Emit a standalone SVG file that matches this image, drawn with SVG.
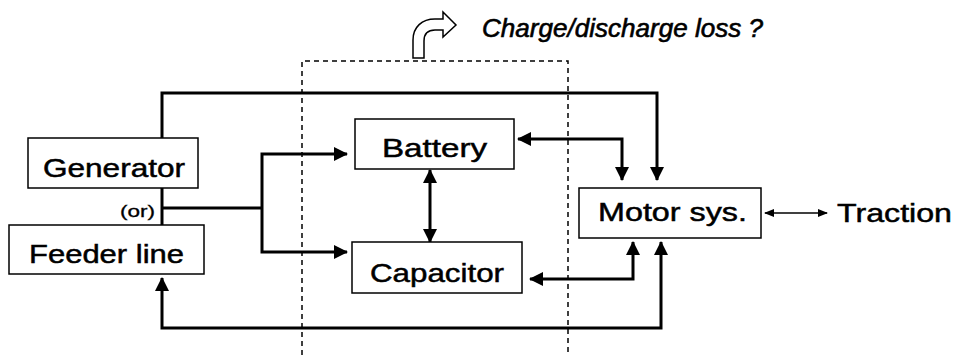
<svg xmlns="http://www.w3.org/2000/svg" width="956" height="355" viewBox="0 0 956 355">
<style>
.box{fill:#fff;stroke:#000;stroke-width:1.5}
.lbl{font-family:"Liberation Sans",Arial,sans-serif;font-size:26.5px;fill:#000;stroke:#000;stroke-width:0.5}
.con{fill:none;stroke:#000;stroke-width:3}
.thin{fill:none;stroke:#000;stroke-width:1.6}
.dash{fill:none;stroke:#000;stroke-width:1.5;stroke-dasharray:5 4}
</style>
<defs>
<marker id="ah" viewBox="0 0 14 14" refX="13" refY="7" markerWidth="14" markerHeight="14" markerUnits="userSpaceOnUse" orient="auto-start-reverse"><path d="M0,0 L14,7 L0,14 Z" fill="#000"/></marker>
<marker id="ahs" viewBox="0 0 10 10" refX="9" refY="5" markerWidth="10" markerHeight="10" markerUnits="userSpaceOnUse" orient="auto-start-reverse"><path d="M0,1 L10,5 L0,9 Z" fill="#000"/></marker>
</defs>
<rect width="956" height="355" fill="#fff"/>
<g id="loss-region">
<path class="dash" d="M302,355 V61 H568 V355"/>
<path d="M413,58 L413,40 C413,27 422,19 435,19 L443,19 L443,12 L456,25 L443,37 L443,30 L435,30 C428,30 424,34 424,41 L424,58 Z" fill="#fff" stroke="#000" stroke-width="1.5"/>
<text x="482" y="37" font-family="'Liberation Sans',Arial,sans-serif" font-size="25" font-style="italic" stroke="#000" stroke-width="0.6" textLength="281" lengthAdjust="spacingAndGlyphs">Charge/discharge loss ?</text>
</g>
<g id="connectors">
<path class="con" d="M162,138 V93 H657 V180" marker-end="url(#ah)"/>
<path class="con" d="M162,188 V225"/>
<path class="con" d="M162,208 H262"/>
<path class="con" d="M262,208 V154 H347" marker-end="url(#ah)"/>
<path class="con" d="M262,208 V252 H347" marker-end="url(#ah)"/>
<path class="con" d="M518,139 H622 V180" marker-start="url(#ah)" marker-end="url(#ah)"/>
<path class="con" d="M430,170 V242" marker-start="url(#ah)" marker-end="url(#ah)"/>
<path class="con" d="M530,279 H633 V242" marker-start="url(#ah)" marker-end="url(#ah)"/>
<path class="con" d="M661,242 V328 H162 V278" marker-start="url(#ah)" marker-end="url(#ah)"/>
<path class="thin" d="M765,213 H827" marker-start="url(#ahs)" marker-end="url(#ahs)"/>
</g>
<g id="generator">
<rect class="box" x="28" y="138" width="170" height="50"/>
<text class="lbl" x="43" y="177" textLength="142" lengthAdjust="spacingAndGlyphs">Generator</text>
</g>
<g id="or-label">
<text x="120" y="217" font-family="'Liberation Sans',Arial,sans-serif" font-size="16" stroke="#000" stroke-width="0.3" textLength="35" lengthAdjust="spacingAndGlyphs">(or)</text>
</g>
<g id="feeder">
<rect class="box" x="9" y="225" width="195" height="49"/>
<text class="lbl" x="29" y="263" textLength="155" lengthAdjust="spacingAndGlyphs">Feeder line</text>
</g>
<g id="battery">
<rect class="box" x="355" y="119" width="159" height="50"/>
<text class="lbl" x="382" y="157" textLength="105" lengthAdjust="spacingAndGlyphs">Battery</text>
</g>
<g id="capacitor">
<rect class="box" x="352" y="242" width="170" height="51"/>
<text class="lbl" x="370" y="282" textLength="134" lengthAdjust="spacingAndGlyphs">Capacitor</text>
</g>
<g id="motor">
<rect class="box" x="579" y="188" width="182" height="50"/>
<text class="lbl" x="598" y="221" textLength="149" lengthAdjust="spacingAndGlyphs">Motor sys.</text>
</g>
<g id="traction">
<text class="lbl" x="837" y="222" textLength="115" lengthAdjust="spacingAndGlyphs">Traction</text>
</g>
</svg>
